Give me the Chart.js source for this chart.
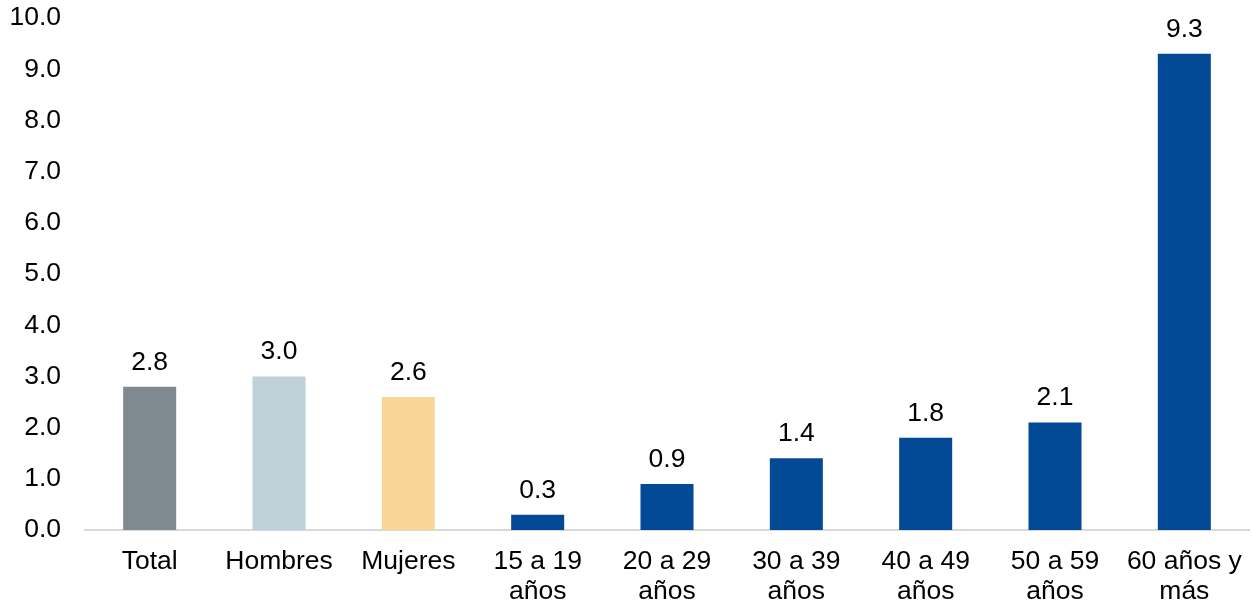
<!DOCTYPE html>
<html><head><meta charset="utf-8">
<script src="https://cdn.jsdelivr.net/npm/chart.js@4/dist/chart.umd.min.js"></script>
<style>html,body{margin:0;padding:0;background:#fff;}canvas{display:block;}</style>
</head><body>
<canvas id="c" width="1252" height="607"></canvas>
<script>
const categories = [["Total"],["Hombres"],["Mujeres"],["15 a 19","años"],["20 a 29","años"],["30 a 39","años"],["40 a 49","años"],["50 a 59","años"],["60 años y","más"]];
const values = [2.8, 3.0, 2.6, 0.3, 0.9, 1.4, 1.8, 2.1, 9.3];
const barColors = ["#7f8a90","#bfd0d8","#f8d698","#034a96","#034a96","#034a96","#034a96","#034a96","#034a96"];
const yTicks = [0,1,2,3,4,5,6,7,8,9,10];

const FONT = "'Liberation Sans', Arial, sans-serif";
const FSIZE = 26.5;

const valueLabels = {
  id: 'valueLabels',
  afterDatasetsDraw(chart) {
    const ctx = chart.ctx;
    const meta = chart.getDatasetMeta(0);
    ctx.save();
    ctx.font = FSIZE + "px " + FONT;
    ctx.fillStyle = "#000";
    ctx.textAlign = "center";
    ctx.textBaseline = "alphabetic";
    meta.data.forEach((bar, i) => {
      ctx.fillText(values[i].toFixed(1), bar.x, bar.y - 17);
    });
    ctx.restore();
  }
};

new Chart(document.getElementById('c'), {
  type: 'bar',
  data: {
    labels: categories,
    datasets: [{ data: values, backgroundColor: barColors, borderWidth: 0,
      categoryPercentage: 1.0, barPercentage: 0.41 }]
  },
  options: {
    responsive: false,
    animation: false,
    devicePixelRatio: 1,
    layout: { padding: { top: 18, right: 3, left: 0, bottom: 0 } },
    plugins: { legend: { display: false }, tooltip: { enabled: false } },
    scales: {
      x: {
        grid: { display: false, drawTicks: false },
        border: { display: true, color: "#d9d9d9", width: 2 },
        ticks: { color: "#000", font: { family: FONT, size: FSIZE, lineHeight: "30px" }, padding: 17, maxRotation: 0, autoSkip: false },
        afterFit(s) { s.height = 77; s.paddingLeft = 0; s.paddingRight = 0; }
      },
      y: {
        min: 0, max: 10,
        afterBuildTicks(s) { s.ticks = yTicks.map(v => ({ value: v })); },
        grid: { display: false, drawTicks: false },
        border: { display: false },
        ticks: { color: "#000", font: { family: FONT, size: FSIZE }, padding: 24,
          callback: v => Number(v).toFixed(1) },
        afterFit(s) { s.width = 85; s.paddingTop = 0; s.paddingBottom = 0; }
      }
    }
  },
  plugins: [valueLabels]
});
</script>
</body></html>
